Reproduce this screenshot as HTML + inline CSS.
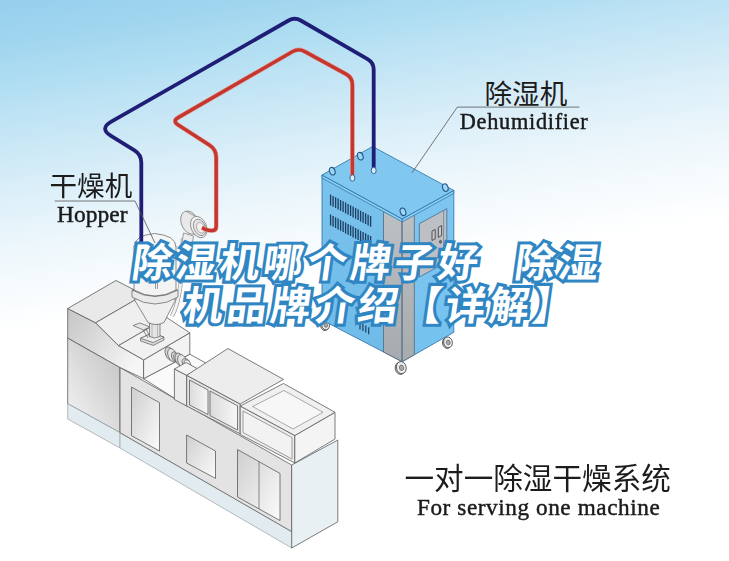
<!DOCTYPE html>
<html lang="zh-CN">
<head>
<meta charset="utf-8">
<title>除湿机哪个牌子好 除湿机品牌介绍【详解】</title>
<style>
html,body{margin:0;padding:0;background:#fff;}
body{width:729px;height:561px;overflow:hidden;font-family:"Liberation Sans",sans-serif;}
svg{display:block;}
.en{font-family:"Liberation Serif",serif;fill:#1a1a1a;stroke:#1a1a1a;stroke-width:0.45px;}
.cn{font-family:"Liberation Sans","Noto Sans CJK SC",sans-serif;fill:#1c1c1c;}
.tw{font-family:"Liberation Sans","Noto Sans CJK SC",sans-serif;font-weight:bold;fill:#fff;stroke:#2f86c2;stroke-width:6.2px;paint-order:stroke fill;stroke-linejoin:miter;}
</style>
</head>
<body>
<svg width="729" height="561" viewBox="0 0 729 561" role="img" aria-label="除湿机哪个牌子好 除湿机品牌介绍【详解】">
<defs>
<linearGradient id="bg" gradientUnits="userSpaceOnUse" x1="0" y1="0" x2="52.3" y2="326.6">
<stop offset="0" stop-color="#96ceec"/>
<stop offset="0.12" stop-color="#a0d5ef"/>
<stop offset="0.23" stop-color="#acdcf1"/>
<stop offset="0.33" stop-color="#bbe2f4"/>
<stop offset="0.45" stop-color="#cbe8f6"/>
<stop offset="0.6" stop-color="#def0f9"/>
<stop offset="0.78" stop-color="#f0f8fc"/>
<stop offset="1" stop-color="#ffffff"/>
</linearGradient>
<linearGradient id="gA" x1="0" y1="0" x2="1" y2="0.6"><stop offset="0" stop-color="#c6c6c6"/><stop offset="0.45" stop-color="#dadada"/><stop offset="1" stop-color="#f6f6f6"/></linearGradient>
<linearGradient id="gE" x1="1" y1="0" x2="0.1" y2="1"><stop offset="0" stop-color="#c2c2c2"/><stop offset="0.5" stop-color="#d9d9d9"/><stop offset="1" stop-color="#f4f4f4"/></linearGradient>
<linearGradient id="gB" x1="0" y1="0" x2="1" y2="1"><stop offset="0" stop-color="#cfcfcf"/><stop offset="1" stop-color="#fbfbfb"/></linearGradient>
<linearGradient id="dL" gradientUnits="userSpaceOnUse" x1="0" y1="180" x2="0" y2="360"><stop offset="0" stop-color="#79c2ec"/><stop offset="1" stop-color="#6fbbe9"/></linearGradient>
<linearGradient id="dR" gradientUnits="userSpaceOnUse" x1="0" y1="190" x2="0" y2="360"><stop offset="0" stop-color="#7ec6f0"/><stop offset="1" stop-color="#75c2ef"/></linearGradient>
<linearGradient id="dG" gradientUnits="userSpaceOnUse" x1="0" y1="210" x2="0" y2="360"><stop offset="0" stop-color="#bdc0c3"/><stop offset="1" stop-color="#a6abb0"/></linearGradient>
<linearGradient id="gC" x1="0" y1="0" x2="1" y2="0"><stop offset="0" stop-color="#dcdcdc"/><stop offset="1" stop-color="#f6f6f6"/></linearGradient>
<filter id="noaa" filterUnits="userSpaceOnUse" x="0" y="0" width="729" height="561"><feOffset dx="0" dy="0"/></filter>
</defs>
<rect width="729" height="561" fill="url(#bg)"/>
<polygon points="67.7,338 120,367.5 120,432.7 67.7,403.7" fill="url(#gE)" stroke="#5c5c5c" stroke-width="0.8" stroke-linejoin="round" />
<polygon points="67.7,403.7 120,432.7 120,448 67.7,419" fill="#e2ecf0" stroke="#a3abae" stroke-width="0.8" stroke-linejoin="round" />
<polygon points="120,432.7 291.7,531.6 291.7,548 120,448" fill="#e2ecf0" stroke="#a3abae" stroke-width="0.8" stroke-linejoin="round" />
<polygon points="120,367.5 291.7,465 291.7,531.6 120,432.7" fill="#e3e3e3" stroke="#5c5c5c" stroke-width="0.8" stroke-linejoin="round" />
<polygon points="291.7,465 337.8,440 337.8,521.8 291.7,548" fill="#e8f0f4" stroke="#5c5c5c" stroke-width="0.8" stroke-linejoin="round" />
<polygon points="131.5,387 159.5,402.7 159.5,451 131.5,435.7" fill="url(#gB)" stroke="#5c5c5c" stroke-width="0.8" stroke-linejoin="round" />
<polygon points="186.6,435 215.5,451 215.5,478.4 186.6,463" fill="url(#gB)" stroke="#5c5c5c" stroke-width="0.8" stroke-linejoin="round" />
<polygon points="237.5,449.5 280,473.5 280,520.5 237.5,497" fill="url(#gB)" stroke="#5c5c5c" stroke-width="0.8" stroke-linejoin="round" />
<line x1="259" y1="461.5" x2="259" y2="509" stroke="#5c5c5c" stroke-width="0.7" />
<polygon points="143.6,378.7 189.8,354.2 240,382 186.7,406" fill="#fafafa" stroke="#5c5c5c" stroke-width="0.8" stroke-linejoin="round" />
<polygon points="67.7,308.5 95.6,322.8 118.5,345.6 143.6,359.9 143.6,378.7 120,367.5 67.7,338" fill="url(#gA)" stroke="#5c5c5c" stroke-width="0.8" stroke-linejoin="round" />
<polygon points="143.6,359.9 189.8,332.8 189.8,354.2 143.6,378.7" fill="#f3f3f3" stroke="#5c5c5c" stroke-width="0.8" stroke-linejoin="round" />
<polygon points="67.7,308.5 116,280.5 143.9,294.8 95.6,322.8" fill="#e9e9e9" stroke="#5c5c5c" stroke-width="0.8" stroke-linejoin="round" />
<polygon points="95.6,322.8 143.9,294.8 166.8,317.6 118.5,345.6" fill="#efefef" stroke="#5c5c5c" stroke-width="0.8" stroke-linejoin="round" />
<polygon points="118.5,345.6 166.8,317.6 189.8,332.8 143.6,359.9" fill="#f1f1f1" stroke="#5c5c5c" stroke-width="0.8" stroke-linejoin="round" />
<g stroke="#5c5c5c" stroke-width="0.7">
<g transform="translate(3.2 4.2)">
<path d="M181 353.5L186 356.5L186 363L181 360.5Z" fill="#e9e9e9"/>
<ellipse cx="166.5" cy="349.5" rx="4.2" ry="7" fill="#d6d6d6" transform="rotate(-22 166.5 349.5)"/>
<ellipse cx="169.1" cy="351" rx="4.2" ry="7" fill="#e6e6e6" transform="rotate(-22 169.1 351)"/>
<ellipse cx="171.8" cy="352.6" rx="3.2" ry="5.2" fill="#d9d9d9" transform="rotate(-22 171.8 352.6)"/>
<ellipse cx="174" cy="353.9" rx="3.2" ry="5.2" fill="#e9e9e9" transform="rotate(-22 174 353.9)"/>
<ellipse cx="176.5" cy="355.4" rx="4.2" ry="6.8" fill="#d6d6d6" transform="rotate(-22 176.5 355.4)"/>
<ellipse cx="179.1" cy="356.9" rx="4.2" ry="6.8" fill="#e6e6e6" transform="rotate(-22 179.1 356.9)"/>
<ellipse cx="182.3" cy="358.8" rx="3" ry="4.6" fill="#dddddd" transform="rotate(-22 182.3 358.8)"/>
<ellipse cx="184.3" cy="360" rx="3" ry="4.6" fill="#f4f4f4" transform="rotate(-22 184.3 360)"/>
</g></g>
<polygon points="174.4,369 186.7,375.3 186.7,406 174.4,399.5" fill="#ececec" stroke="#5c5c5c" stroke-width="0.8" stroke-linejoin="round" />
<polygon points="174.4,369 186,362.5 198,369 186.7,375.3" fill="#f4f4f4" stroke="#5c5c5c" stroke-width="0.8" stroke-linejoin="round" />
<polygon points="186.7,375.3 240.2,404 240.2,434 186.7,406" fill="#e4e4e4" stroke="#5c5c5c" stroke-width="0.8" stroke-linejoin="round" />
<polygon points="189.5,380 208,390 208,414.5 189.5,405" fill="url(#gC)" stroke="#5c5c5c" stroke-width="0.8" stroke-linejoin="round" />
<polygon points="210,391 237.5,405.8 237.5,430 210,415.6" fill="url(#gC)" stroke="#5c5c5c" stroke-width="0.8" stroke-linejoin="round" />
<polygon points="186.7,375.3 227.9,348.5 283.5,379.4 240.2,404" fill="#ededed" stroke="#5c5c5c" stroke-width="0.8" stroke-linejoin="round" />
<polygon points="240.2,406 294.8,435.5 294.8,463 240.2,434.5" fill="#ececec" stroke="#5c5c5c" stroke-width="0.8" stroke-linejoin="round" />
<polygon points="243,411 292,437.5 292,459 243,432.5" fill="#f2f2f2" stroke="#888" stroke-width="0.8" stroke-linejoin="round" />
<polygon points="294.8,435.5 335,412.3 335,439 294.8,463" fill="#f4f4f4" stroke="#5c5c5c" stroke-width="0.8" stroke-linejoin="round" />
<polygon points="240.2,406 283.5,383.5 335,412.3 294.8,435.5" fill="#f0f0f0" stroke="#5c5c5c" stroke-width="0.8" stroke-linejoin="round" />
<polygon points="252.6,406.5 284,390.5 323,412.3 293,429" fill="#f7f7f7" stroke="#888" stroke-width="0.7" stroke-linejoin="round" />
<g stroke="#5c5c5c" stroke-width="0.7" stroke-linejoin="round">
<path d="M183 238L182 262Q181 300 172 316" fill="none" stroke="#888" stroke-width="4.2"/>
<path d="M183 238L182 262Q181 300 172 316" fill="none" stroke="#f1f1f1" stroke-width="3"/>
<path d="M140.5 338.3L152 333L164 337.2L164 340L153.3 345.4L140.5 341Z" fill="#d9d9d9"/>
<path d="M140.5 338.3L152 333L164 337.2L153.3 342.6Z" fill="#ececec"/>
<path d="M133 325.5L140 323L150 327L143.5 330Z" fill="#e6e6e6"/>
<path d="M143 330L148 338M146 329L150 337" fill="none"/>
<path d="M149.5 322L149.5 336.5Q154.5 339.5 160 336.5L160 322Z" fill="#e4e4e4"/>
<path d="M152 324V337M157.5 324V337.5" fill="none" stroke="#999" stroke-width="0.6"/>
<path d="M134 299L148 322.5Q156 326.5 164 322.5L176 299Z" fill="#efefef"/>
<path d="M132 290L132 297Q155 311 178 297L178 290Z" fill="#e9e9e9"/>
<path d="M134 246L134 290Q155 302 176 290L176 246Z" fill="#f3f3f3"/>
<path d="M132 290Q155 303 178 290" fill="none"/>
<path d="M134 247Q134 235.5 154.5 233.5Q176 235.5 176 247" fill="#f6f6f6"/>
<path d="M155.5 283v6M157.5 283v6" fill="none" stroke-width="0.6"/>
</g>
<g stroke="#777" stroke-width="0.7">
<path d="M183.5 233L181.5 246L191.5 249L193.5 236Z" fill="#ededed"/>
<ellipse cx="189.8" cy="222.6" rx="8.4" ry="12.2" fill="#e9e9e9" transform="rotate(-24 189.8 222.6)"/>
<path d="M184.9 211.5L193.9 216L203.6 238.2L194.7 233.8Z" fill="#e9e9e9" stroke="none"/>
<path d="M186 211.3L195.6 216.4M193.6 234.2L202 238" fill="none"/>
<ellipse cx="198.8" cy="227" rx="7.6" ry="11.2" fill="#f3f3f3" transform="rotate(-24 198.8 227)"/>
<ellipse cx="199.6" cy="227.4" rx="5.8" ry="8.6" fill="#e4e4e4" transform="rotate(-24 199.6 227.4)"/>
<ellipse cx="200.6" cy="227.8" rx="3.8" ry="5.6" fill="#f4eeee" stroke="#999" transform="rotate(-24 200.6 227.8)"/>
</g>
<g stroke="#444" stroke-width="0.8" transform="rotate(-12 325.6 325)">
<ellipse cx="324.3" cy="325.5" rx="3.84" ry="4.8" fill="#d0d0d0"/>
<ellipse cx="325.6" cy="325" rx="3.84" ry="4.8" fill="#eeeeee"/>
<ellipse cx="325.8" cy="325.2" rx="1.728" ry="2.208" fill="#a8a8a8" stroke="#555" stroke-width="0.6"/>
</g>
<g stroke="#444" stroke-width="0.8" transform="rotate(-12 448 342.3)">
<ellipse cx="446.7" cy="342.8" rx="4.32" ry="5.4" fill="#d0d0d0"/>
<ellipse cx="448" cy="342.3" rx="4.32" ry="5.4" fill="#eeeeee"/>
<ellipse cx="448.2" cy="342.5" rx="1.944" ry="2.484" fill="#a8a8a8" stroke="#555" stroke-width="0.6"/>
</g>
<g stroke="#444" stroke-width="0.8" transform="rotate(-12 401.3 367.6)">
<ellipse cx="400" cy="368.1" rx="4.88" ry="6.1" fill="#d0d0d0"/>
<ellipse cx="401.3" cy="367.6" rx="4.88" ry="6.1" fill="#eeeeee"/>
<ellipse cx="401.5" cy="367.8" rx="2.196" ry="2.806" fill="#a8a8a8" stroke="#555" stroke-width="0.6"/>
</g>
<polygon points="322,175 402.2,218.9 402.2,361.7 322,320" fill="url(#dL)" stroke="#2a6ea5" stroke-width="0.8" stroke-linejoin="round" />
<polygon points="383.5,211.7 402.2,218.9 402.2,361.7 383.5,352" fill="url(#dG)" stroke="#4f5b66" stroke-width="0.7" stroke-linejoin="round" />
<polygon points="402.2,218.9 453.8,190.4 453.8,332.3 402.2,361.7" fill="url(#dR)" stroke="#2a6ea5" stroke-width="0.8" stroke-linejoin="round" />
<polygon points="402.2,218.9 414.3,215.2 414.3,354.8 402.2,361.7" fill="url(#dG)" stroke="#4f5b66" stroke-width="0.7" stroke-linejoin="round" />
<polygon points="419.3,223.7 446.8,208.7 446.8,262 419.3,277" fill="#bcbfc3" stroke="#3f6d93" stroke-width="0.8" stroke-linejoin="round" />
<line x1="443.6" y1="210.6" x2="443.6" y2="263.6" stroke="#5d7f9c" stroke-width="0.7" />
<polygon points="432,231.2 435.2,229.5 435.2,238.8 432,240.5" fill="#c9c9c9" stroke="#333" stroke-width="0.8" stroke-linejoin="round" />
<polygon points="438.3,227.4 441.6,225.6 441.6,235.6 438.3,237.4" fill="#c9c9c9" stroke="#333" stroke-width="0.8" stroke-linejoin="round" />
<ellipse cx="440.5" cy="241.8" rx="1.1" ry="1.4" fill="#777" stroke="#333" stroke-width="0.6"/>
<path d="M330.6 194.6v10.8M333.1 195.9v10.8M335.6 197.3v10.8M338.1 198.6v10.8M340.6 199.9v10.8M343.1 201.3v10.8M345.6 202.6v10.8M348.1 204.0v10.8M350.6 205.3v10.8M353.1 206.6v10.8M355.6 208.0v10.8M358.1 209.3v10.8M360.6 210.7v10.8M363.1 212.0v10.8M365.6 213.3v10.8M368.1 214.7v10.8M370.6 216.0v10.8" stroke="#1d3f66" stroke-width="1.35" fill="none"/>
<path d="M330.6 214.6v10.8M333.1 215.9v10.8M335.6 217.3v10.8M338.1 218.6v10.8M340.6 219.9v10.8M343.1 221.3v10.8M345.6 222.6v10.8M348.1 224.0v10.8M350.6 225.3v10.8M353.1 226.6v10.8M355.6 228.0v10.8M358.1 229.3v10.8M360.6 230.7v10.8M363.1 232.0v10.8M365.6 233.3v10.8M368.1 234.7v10.8M370.6 236.0v10.8" stroke="#1d3f66" stroke-width="1.35" fill="none"/>
<path d="M360.0 322.5v7.0M362.9 324.1v7.0M365.8 325.6v7.0M368.7 327.2v7.0" stroke="#1d3f66" stroke-width="1.2" fill="none"/>
<polygon points="322,175 402.2,218.9 402.2,221.9 322,178" fill="#8acef3" stroke="#2a6ea5" stroke-width="0.7" stroke-linejoin="round" />
<polygon points="402.2,218.9 453.8,190.4 453.8,193.4 402.2,221.9" fill="#8acef3" stroke="#2a6ea5" stroke-width="0.7" stroke-linejoin="round" />
<polygon points="322,175 372.6,146.5 453.8,190.4 402.2,218.9" fill="#81c8f0" stroke="#2a6ea5" stroke-width="0.8" stroke-linejoin="round" />
<ellipse cx="332.3" cy="171.2" rx="2.7" ry="3.9" fill="#9dd5f5" stroke="#245a88" stroke-width="1.1" transform="rotate(-20 332.3 171.2)"/>
<ellipse cx="360.3" cy="156.2" rx="2.7" ry="3.9" fill="#9dd5f5" stroke="#245a88" stroke-width="1.1" transform="rotate(-20 360.3 156.2)"/>
<ellipse cx="445.3" cy="187.6" rx="2.7" ry="3.9" fill="#9dd5f5" stroke="#245a88" stroke-width="1.1" transform="rotate(-20 445.3 187.6)"/>
<ellipse cx="403" cy="211.8" rx="2.7" ry="3.9" fill="#9dd5f5" stroke="#245a88" stroke-width="1.1" transform="rotate(-20 403 211.8)"/>
<path d="M202 227.8L205.2 229.2Q208.5 230.6 212.0 230.6L212.3 230.6Q216.2 230.6 216.2 226.8L216.2 157.5Q216.2 149.5 209.5 145.2L178.1 124.8Q172.2 121.0 178.3 117.5L292.5 51.6Q298.6 48.1 304.7 51.5L346.3 74.3Q352.4 77.7 352.4 84.7L352.4 177" fill="none" stroke="#e3938b" stroke-width="4.5" stroke-linejoin="round"/>
<path d="M202 227.8L205.2 229.2Q208.5 230.6 212.0 230.6L212.3 230.6Q216.2 230.6 216.2 226.8L216.2 157.5Q216.2 149.5 209.5 145.2L178.1 124.8Q172.2 121.0 178.3 117.5L292.5 51.6Q298.6 48.1 304.7 51.5L346.3 74.3Q352.4 77.7 352.4 84.7L352.4 177" fill="none" stroke="#c4362e" stroke-width="3.3" stroke-linejoin="round"/>
<path d="M141.3 245L141.3 162.6Q141.3 154.6 134.5 150.4L111.0 135.9Q99.1 128.5 111.3 121.6L288.6 20.5Q294.7 17.0 300.8 20.5L367.6 59.1Q373.7 62.6 373.7 69.6L373.7 170" fill="none" stroke="#1f1d75" stroke-width="3.8" stroke-linejoin="round"/>
<ellipse cx="352.4" cy="178" rx="2.5" ry="3.2" fill="#dcedf9" stroke="#245a88" stroke-width="0.9"/>
<ellipse cx="373.7" cy="170.5" rx="2.5" ry="3.2" fill="#dcedf9" stroke="#245a88" stroke-width="0.9"/>
<path d="M579.5 107.1H457.3L412 172.8" fill="none" stroke="#555" stroke-width="0.8"/>
<text class="cn" x="484.5" y="103.5" font-size="27.6">除湿机</text>
<g filter="url(#noaa)">
<text class="en" x="459.8" y="128.5" font-size="22.3" textLength="128" lengthAdjust="spacing">Dehumidifier</text>
<path d="M54.7 201H135L155 243" fill="none" stroke="#555" stroke-width="0.8"/>
<text class="cn" x="49.5" y="196" font-size="27.6">干燥机</text>
<text class="en" x="57" y="222.4" font-size="23.4" textLength="70.5" lengthAdjust="spacing">Hopper</text>
<text class="cn" x="404.5" y="489" font-size="29.6">一对一除湿干燥系统</text>
<text class="en" x="416.9" y="514.8" font-size="23.2" textLength="242.8" lengthAdjust="spacing">For serving one machine</text>
</g>
<g stroke-linejoin="miter"><title>除湿机哪个牌子好 除湿机品牌介绍【详解】</title>
<text class="tw" transform="translate(130.5 277) skewX(-8)" font-size="40" letter-spacing="3.7"><tspan x="0" y="0">除湿机哪个牌子好</tspan><tspan x="382.8" y="0">除湿</tspan></text>
<text class="tw" transform="translate(181.6 320) skewX(-8)" font-size="40" letter-spacing="3.7" x="0" y="0">机品牌介绍【详解】</text>
</g>
</svg>
</body>
</html>
